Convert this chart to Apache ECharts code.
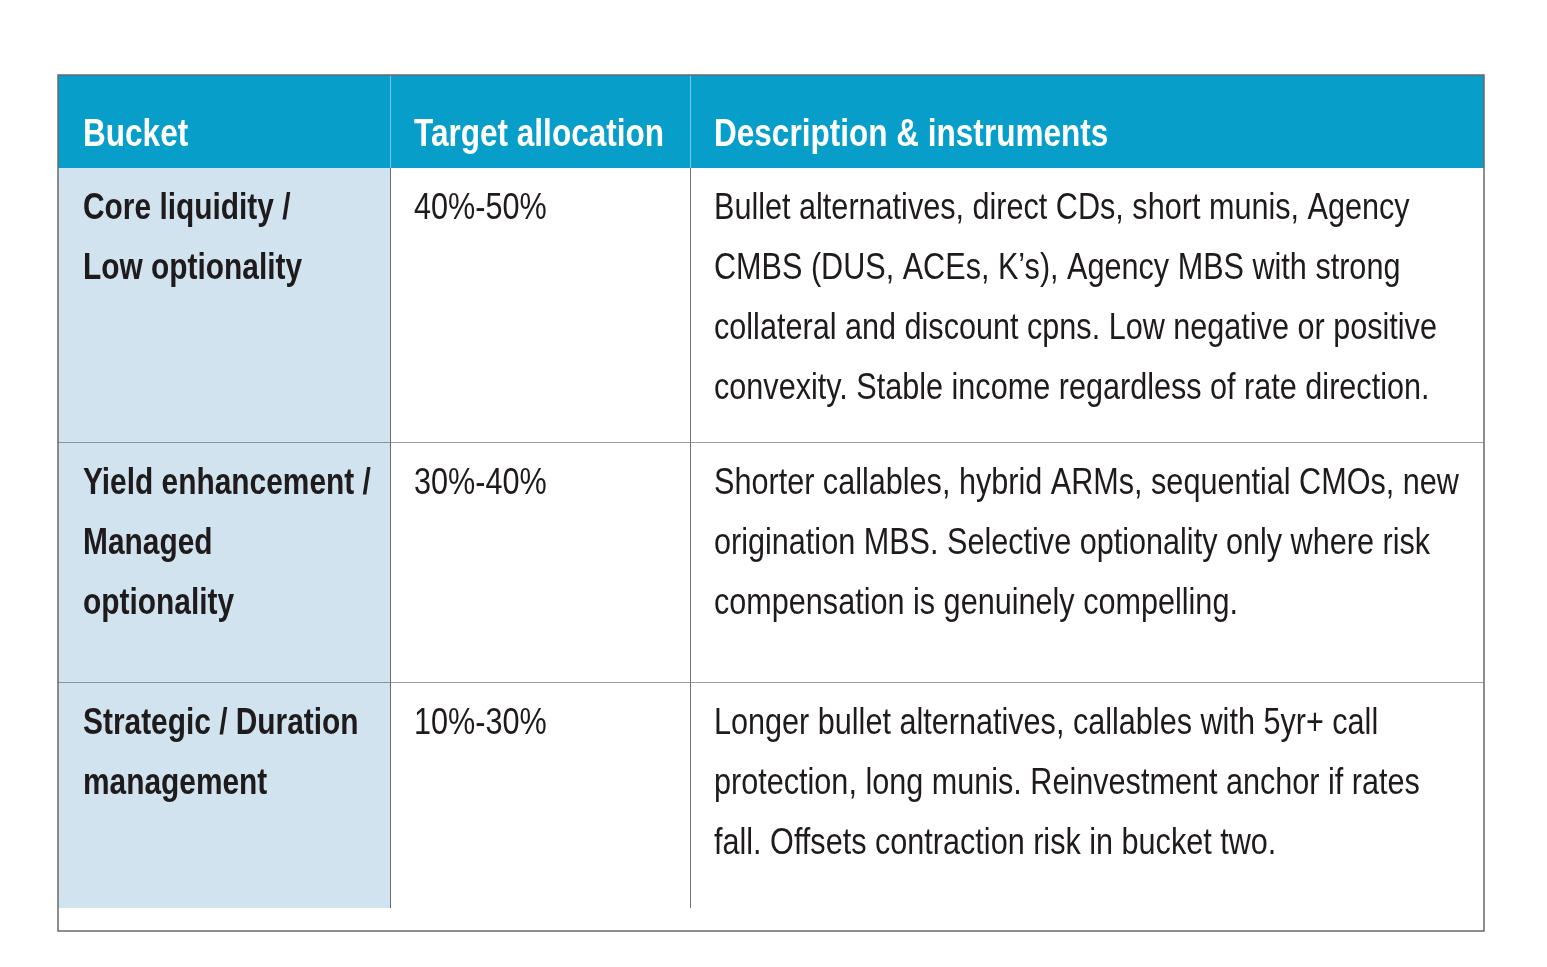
<!doctype html>
<html>
<head>
<meta charset="utf-8">
<title>Bucket allocation</title>
<style>
  html, body { margin: 0; padding: 0; background: #ffffff; }
  #main { width: 1547px; height: 967px; }
</style>
</head>
<body>
<div id="main"></div>
<script src="https://cdn.jsdelivr.net/npm/echarts@6/dist/echarts.min.js"></script>
<script type="text/javascript">
// table content
var headers = ['Bucket', 'Target allocation', 'Description & instruments'];
var buckets = [
  ['Core liquidity /', 'Low optionality'],
  ['Yield enhancement /', 'Managed', 'optionality'],
  ['Strategic / Duration', 'management']
];
var allocations = ['40%-50%', '30%-40%', '10%-30%'];
var descriptions = [
  ['Bullet alternatives, direct CDs, short munis, Agency',
   'CMBS (DUS, ACEs, K\u2019s), Agency MBS with strong',
   'collateral and discount cpns. Low negative or positive',
   'convexity. Stable income regardless of rate direction.'],
  ['Shorter callables, hybrid ARMs, sequential CMOs, new',
   'origination MBS. Selective optionality only where risk',
   'compensation is genuinely compelling.'],
  ['Longer bullet alternatives, callables with 5yr+ call',
   'protection, long munis. Reinvestment anchor if rates',
   'fall. Offsets contraction risk in bucket two.']
];

// layout (axis units = px inside the grid)
var colEdges = [0, 333, 633, 1426];
var rowEdges = [0, 93, 368, 608, 833];
var tableH = 856;
var padX = [25, 23, 23];
var lineGap = 60;
var font = '"Liberation Sans", Arial, sans-serif';
// no condensed face installed, so squeeze the glyphs horizontally
var squeezeBold = 0.83;
var squeezeReg = 0.85;

function cellLines(r, c) {
  if (r === 0) return [headers[c]];
  if (c === 0) return buckets[r - 1];
  if (c === 1) return [allocations[r - 1]];
  return descriptions[r - 1];
}

var cells = [];
for (var r = 0; r < rowEdges.length - 1; r++) {
  for (var c = 0; c < colEdges.length - 1; c++) {
    cells.push([c, r]);
  }
}

function renderCell(params, api) {
  var c = api.value(0), r = api.value(1);
  var p0 = api.coord([colEdges[c], rowEdges[r]]);
  var p1 = api.coord([colEdges[c + 1], rowEdges[r + 1]]);
  var w = p1[0] - p0[0], h = p1[1] - p0[1];
  var fill = r === 0 ? '#079fca' : (c === 0 ? '#d1e3ef' : '#ffffff');
  var children = [{
    type: 'rect',
    shape: { x: p0[0], y: p0[1], width: w, height: h },
    style: { fill: fill }
  }];
  if (c < 2) {
    children.push({
      type: 'line',
      shape: { x1: p1[0], y1: p0[1], x2: p1[0], y2: p1[1] },
      style: { stroke: r === 0 ? '#9fd6ea' : '#444444', lineWidth: 1.5 }
    });
  }
  if (r === 1 || r === 2) {
    children.push({
      type: 'line',
      shape: { x1: p0[0], y1: p1[1], x2: p1[0], y2: p1[1] },
      style: { stroke: '#7a7a7a', lineWidth: 1.5 }
    });
  }
  var lines = cellLines(r, c);
  var bold = r === 0 || c === 0;
  lines.forEach(function (t, i) {
    children.push({
      type: 'text',
      x: p0[0] + padX[c],
      y: r === 0 ? p0[1] + 61 : p0[1] + 41 + i * lineGap,
      scaleX: bold ? squeezeBold : squeezeReg,
      style: {
        text: t,
        x: 0,
        y: 0,
        fill: r === 0 ? '#ffffff' : '#1f1b1c',
        font: (bold ? 'bold ' : '') + (r === 0 ? 38 : 36) + 'px ' + font,
        verticalAlign: 'middle',
        align: 'left'
      }
    });
  });
  return { type: 'group', children: children };
}

function renderFrame(params, api) {
  var p0 = api.coord([0, 0]);
  var p1 = api.coord([colEdges[colEdges.length - 1], tableH]);
  return {
    type: 'rect',
    shape: { x: p0[0], y: p0[1], width: p1[0] - p0[0], height: p1[1] - p0[1] },
    style: { fill: 'none', stroke: '#6a6a6a', lineWidth: 1.5 }
  };
}

var myChart = echarts.init(document.getElementById('main'));
var option = {
  animation: false,
  grid: { left: 58, top: 75, width: 1426, height: tableH },
  xAxis: { type: 'value', min: 0, max: colEdges[colEdges.length - 1], show: false },
  yAxis: { type: 'value', min: 0, max: tableH, inverse: true, show: false },
  series: [
    { type: 'custom', renderItem: renderCell, data: cells, z: 2 },
    { type: 'custom', renderItem: renderFrame, data: [[0, 0]], z: 3, silent: true }
  ]
};
myChart.setOption(option);
</script>
</body>
</html>
